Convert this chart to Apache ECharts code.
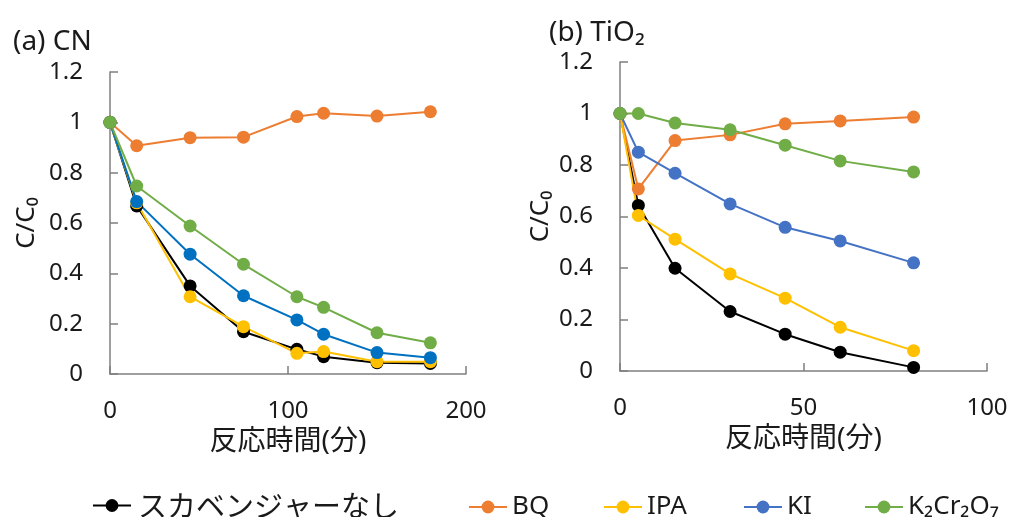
<!DOCTYPE html>
<html>
<head>
<meta charset="utf-8">
<script src="https://cdn.jsdelivr.net/npm/echarts@6/dist/echarts.min.js"></script>
<style>
  html, body { margin: 0; padding: 0; background: #fff; }
  #chart { width: 1012px; height: 517px; }
</style>
</head>
<body>
<div id="chart"></div>
<script>
// Series names (legend)
const seriesNames = ['スカベンジャーなし', 'BQ', 'IPA', 'KI', 'K₂Cr₂O₇'];

// (a) CN: reaction time (min) and C/C0
const timeCN = [0, 15, 45, 75, 105, 120, 150, 180];
const cnNone = [1, 0.668, 0.350, 0.168, 0.098, 0.069, 0.045, 0.042];
const cnBQ = [1, 0.907, 0.939, 0.941, 1.023, 1.036, 1.025, 1.042];
const cnIPA = [1, 0.680, 0.307, 0.188, 0.082, 0.089, 0.049, 0.049];
const cnKI = [1, 0.685, 0.476, 0.311, 0.215, 0.158, 0.085, 0.065];
const cnK2Cr2O7 = [1, 0.747, 0.588, 0.436, 0.307, 0.265, 0.164, 0.124];

// (b) TiO2: reaction time (min) and C/C0
const timeTiO2 = [0, 5, 15, 30, 45, 60, 80];
const tiNone = [1, 0.643, 0.399, 0.231, 0.143, 0.073, 0.014];
const tiBQ = [1, 0.707, 0.895, 0.917, 0.960, 0.971, 0.986];
const tiIPA = [1, 0.604, 0.512, 0.377, 0.283, 0.170, 0.079];
const tiKI = [1, 0.850, 0.768, 0.649, 0.558, 0.505, 0.420];
const tiK2Cr2O7 = [1, 1.0, 0.963, 0.937, 0.877, 0.816, 0.773];

const FONT = "'Noto Sans', 'Noto Sans CJK JP', sans-serif";
const CJK = "'Noto Sans CJK JP', 'Noto Sans', sans-serif";
const TEXT = '#1a1a1a';
const AXIS = '#7f7f7f';

const colorsCN = ['#000000', '#ED7D31', '#FFC000', '#0070C0', '#70AD47'];
const colorsTi = ['#000000', '#ED7D31', '#FFC000', '#4472C4', '#70AD47'];
const legendColors = ['#000000', '#ED7D31', '#FFC000', '#4472C4', '#70AD47'];

const pairs = (xs, ys) => xs.map((x, i) => [x, ys[i]]);

function xAxisFor(gridIndex, max, interval, nameGap) {
  return {
    type: 'value', gridIndex, min: 0, max, interval,
    name: '反応時間(分)', nameLocation: 'middle', nameGap,
    nameTextStyle: { fontFamily: FONT, fontSize: 28, color: TEXT },
    axisLine: { show: true, onZero: false, lineStyle: { color: AXIS, width: 1.5 } },
    axisTick: { show: true, inside: true, length: 8, lineStyle: { color: AXIS, width: 1.5 } },
    axisLabel: { fontFamily: FONT, fontSize: 24, color: TEXT, margin: 25 },
    splitLine: { show: false }
  };
}

function yAxisFor(gridIndex, nameGap) {
  return {
    type: 'value', gridIndex, min: 0, max: 1.2, interval: 0.2,
    name: 'C/C₀', nameLocation: 'middle', nameGap, nameRotate: 90,
    nameTextStyle: { fontFamily: FONT, fontSize: 26, color: TEXT },
    axisLine: { show: true, lineStyle: { color: AXIS, width: 1.5 } },
    axisTick: { show: true, inside: true, length: 8, lineStyle: { color: AXIS, width: 1.5 } },
    axisLabel: { fontFamily: FONT, fontSize: 24, color: TEXT, margin: 27 },
    splitLine: { show: false }
  };
}

function lineSeries(name, idx, xs, ys, color) {
  return {
    type: 'line', name,
    xAxisIndex: idx, yAxisIndex: idx,
    data: pairs(xs, ys),
    symbol: 'circle', symbolSize: 13, showSymbol: true,
    lineStyle: { color, width: 2 },
    itemStyle: { color },
    animation: false
  };
}

const cnSets = [cnNone, cnBQ, cnIPA, cnKI, cnK2Cr2O7];
const tiSets = [tiNone, tiBQ, tiIPA, tiKI, tiK2Cr2O7];

const series = [];
seriesNames.forEach((n, i) => series.push(lineSeries(n, 0, timeCN, cnSets[i], colorsCN[i])));
seriesNames.forEach((n, i) => series.push(lineSeries(n, 1, timeTiO2, tiSets[i], colorsTi[i])));

// one legend entry per scavenger, laid out along the bottom
const legendLeft = [87, 463, 598, 738, 859];
const legend = seriesNames.map((n, i) => {
  const jp = i === 0;
  return {
    left: legendLeft[i], top: jp ? 486 : 489,
    itemWidth: 38, itemHeight: 16, itemGap: 0,
    textStyle: {
      fontFamily: jp ? CJK : FONT,
      fontSize: jp ? 29 : 26,
      color: TEXT,
      padding: [0, 0, 0, jp ? 2 : 0]
    },
    data: [{
      name: n,
      itemStyle: { color: legendColors[i] },
      lineStyle: { color: legendColors[i], width: 2 }
    }]
  };
});

const option = {
  backgroundColor: '#ffffff',
  animation: false,
  title: [
    { text: '(a) CN', left: 8, top: 23, textStyle: { fontFamily: FONT, fontSize: 28, fontWeight: 'normal', color: TEXT } },
    { text: '(b) TiO₂', left: 544, top: 14, textStyle: { fontFamily: FONT, fontSize: 28, fontWeight: 'normal', color: TEXT } }
  ],
  legend,
  grid: [
    { left: 110, top: 72, width: 356, height: 302 },
    { left: 620, top: 62, width: 367, height: 309 }
  ],
  xAxis: [xAxisFor(0, 200, 100, 40), xAxisFor(1, 100, 50, 51)],
  yAxis: [yAxisFor(0, 70), yAxisFor(1, 66)],
  series
};

const chart = echarts.init(document.getElementById('chart'), null, { renderer: 'canvas' });
chart.setOption(option);
</script>
</body>
</html>
